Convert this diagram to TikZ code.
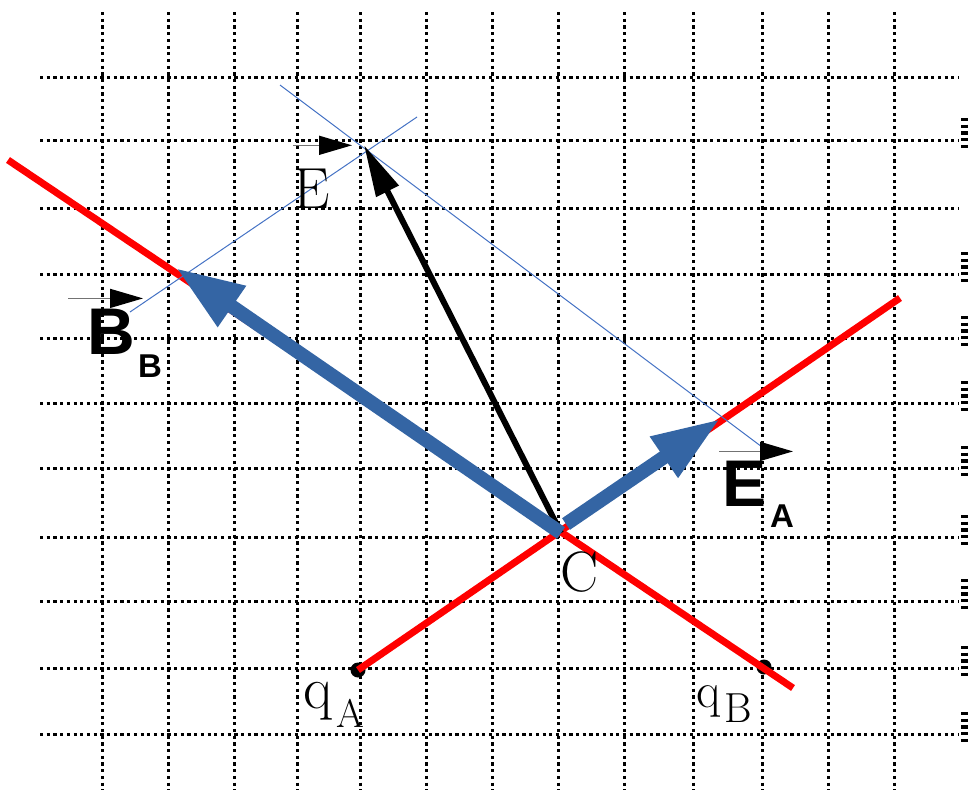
\documentclass[tikz,border=0pt]{standalone}
\usepackage{fontspec}
\newfontfamily\arialsans{Liberation Sans}
\usetikzlibrary{arrows.meta}
\definecolor{vecblue}{RGB}{52,101,164}
\definecolor{thinblue}{RGB}{68,114,196}
\begin{document}
\begin{tikzpicture}[x=1pt,y=-1pt]
\tikzstyle{grid}=[line width=3pt,dash pattern=on 3.2pt off 3.5pt]
\tikzstyle{field}=[red,line width=7pt]
\tikzstyle{help}=[thinblue,line width=1pt]
\tikzstyle{vec}=[vecblue,line width=14pt,-{Triangle[length=68pt,width=46pt]}]
\tikzstyle{total}=[black,line width=6pt,-{Triangle[length=52pt,width=24pt]}]
\tikzstyle{hat}=[black!55,line width=1.5pt,-{Triangle[length=33pt,width=19pt,black]}]
\tikzstyle{lbl}=[inner sep=0pt,anchor=base west]
\tikzstyle{charge}=[circle,fill=black,inner sep=0pt,minimum size=15pt]
\useasboundingbox (0,0) rectangle (968,793);
% dotted grid
\foreach \y in {77,140,208,274,338,403,468,537,601,668,734}
  \draw[grid] (40,\y) -- (958,\y);
\foreach \x in {102,168,234,297,360,426,492,558,624,693,762,828,894}
  \draw[grid] (\x,12) -- (\x,790);
\foreach \y in {140,274,338,403,468,537,601,668,734}
  \draw[grid,line width=7pt] (964,\y-22) -- (964,\y+8);
% points
\coordinate (C) at (561,533);
\coordinate (CA) at (566,524);
\coordinate (redL) at (8,160);
\coordinate (redLend) at (793,688);
\coordinate (redR) at (900,298);
\coordinate (Etip) at (364,145);
\coordinate (EAtip) at (720,419);
\coordinate (EBtip) at (176,268);
\coordinate (h1) at (280,85);
\coordinate (h2) at (762,447);
\coordinate (h3) at (417,117);
\coordinate (h4) at (130,312);
\node[charge] (qA) at (358,670) {};
\node[charge] (qB) at (764,667) {};
% field lines
\draw[field] (redL) -- (redLend);
\draw[field] (qA.center) -- (redR);
\draw[help] (h1) -- (h2);
\draw[help] (h3) -- (h4);
% vectors
\draw[total] (C) -- (Etip);
\draw[vec] (C) -- (EBtip);
\draw[vec] (CA) -- (EAtip);
% labels
\node[lbl,font=\fontsize{58}{58}\selectfont] (Elbl) at (293,208) {E};
\draw[hat] ([shift={(0,-23)}]Elbl.north west) -- ++(59,0);
\node[lbl,font=\arialsans\bfseries\fontsize{66}{66}\selectfont] (BB) at (87,354) {B};
\node[lbl,font=\arialsans\bfseries\fontsize{33}{33}\selectfont] (BBsub) at (138,377) {B};
\draw[hat] ([shift={(-19,-10)}]BB.north west) -- ++(75,0);
\node[lbl,font=\arialsans\bfseries\fontsize{66}{66}\selectfont] (EA) at (722,506) {E};
\node[lbl,font=\arialsans\bfseries\fontsize{33}{33}\selectfont] (EAsub) at (770,527) {A};
\draw[hat] ([shift={(-3,-9)}]EA.north west) -- ++(74,0);
\node[lbl,font=\fontsize{57}{57}\selectfont] (Clbl) at (560,591) {C};
\node[lbl,font=\fontsize{60}{60}\selectfont] (qAlbl) at (303,708) {q};
\node[lbl,font=\fontsize{40}{40}\selectfont] (qAsub) at (336,727) {A};
\node[lbl,font=\fontsize{50}{50}\selectfont] (qBlbl) at (696,707) {q};
\node[lbl,font=\fontsize{42}{42}\selectfont] (qBsub) at (724,722) {B};
\end{tikzpicture}
\end{document}
